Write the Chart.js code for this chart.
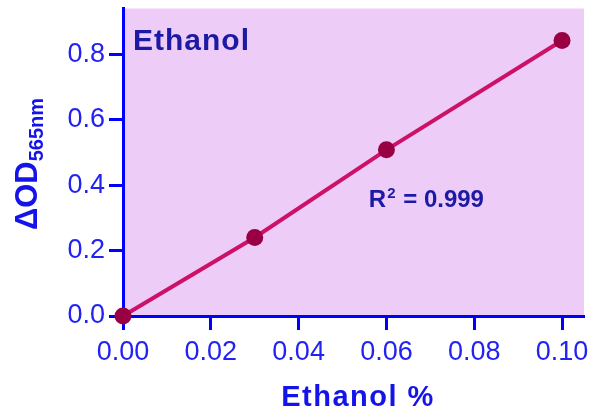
<!DOCTYPE html>
<html>
<head>
<meta charset="utf-8">
<script src="https://cdn.jsdelivr.net/npm/chart.js@4"></script>
<style>
  html, body { margin: 0; padding: 0; background: #fff; }
  #wrap { width: 595px; height: 413px; }
</style>
</head>
<body>
<div id="wrap"><canvas id="chart" width="595" height="413"></canvas></div>
<script>
// Ethanol standard curve
const concentrations = [0, 0.03, 0.06, 0.10];
const deltaOD = [0.0, 0.24, 0.508, 0.842];
const xTickValues = [0, 0.02, 0.04, 0.06, 0.08, 0.10];
const yTickValues = [0, 0.2, 0.4, 0.6, 0.8];
const rSquared = '0.999';

const AXIS_BLUE = '#0000ff';
const LABEL_BLUE = '#2222f2';
const NAVY = '#1c1aa4';

// fond mauve de la zone de tracé + textes
const decorPlugin = {
    id: 'decor',
    beforeDraw(chart) {
        const { ctx, chartArea: a } = chart;
        ctx.save();
        ctx.fillStyle = '#eeccf8';
        ctx.fillRect(a.left, a.top, a.right - a.left, a.bottom - a.top);
        ctx.restore();
    },
    afterDraw(chart) {
        const { ctx, chartArea: a, scales } = chart;
        ctx.save();
        ctx.textBaseline = 'alphabetic';

        // titre dans le cadre
        ctx.fillStyle = NAVY;
        ctx.font = 'bold 30px "Liberation Sans", Arial, sans-serif';
        ctx.letterSpacing = '1px';
        ctx.textAlign = 'left';
        ctx.fillText('Ethanol', a.left + 10, 50);

        // R²
        ctx.font = 'bold 24px "Liberation Sans", Arial, sans-serif';
        ctx.letterSpacing = '0px';
        let rx = scales.x.getPixelForValue(0.056);
        const ry = scales.y.getPixelForValue(0.333);
        ctx.fillText('R', rx, ry);
        rx += ctx.measureText('R').width;
        ctx.font = 'bold 15px "Liberation Sans", Arial, sans-serif';
        ctx.fillText('2', rx + 1, ry - 9);
        rx += ctx.measureText('2').width + 2;
        ctx.font = 'bold 24px "Liberation Sans", Arial, sans-serif';
        ctx.fillText(' = ' + rSquared, rx, ry);

        // titre axe x
        ctx.fillStyle = '#1414ea';
        ctx.font = 'bold 29px "Liberation Sans", Arial, sans-serif';
        ctx.letterSpacing = '1.5px';
        ctx.textAlign = 'center';
        ctx.fillText('Ethanol %', 358, 406);

        // titre axe y (tourné) avec indice
        ctx.translate(37, 0);
        ctx.rotate(-Math.PI / 2);
        ctx.letterSpacing = '0px';
        ctx.textAlign = 'left';
        const main = 'ΔOD', sub = '565nm';
        ctx.font = 'bold 31px "Liberation Sans", Arial, sans-serif';
        const wMain = ctx.measureText(main).width;
        ctx.font = 'bold 20px "Liberation Sans", Arial, sans-serif';
        const wSub = ctx.measureText(sub).width;
        const start = -164 - (wMain + wSub) / 2;
        ctx.font = 'bold 31px "Liberation Sans", Arial, sans-serif';
        ctx.fillText(main, start, 0);
        ctx.font = 'bold 20px "Liberation Sans", Arial, sans-serif';
        ctx.fillText(sub, start + wMain, 6);
        ctx.restore();
    }
};

new Chart(document.getElementById('chart'), {
    type: 'scatter',
    data: {
        datasets: [{
            data: concentrations.map((c, i) => ({ x: c, y: deltaOD[i] })),
            showLine: true,
            borderColor: '#cc1166',
            borderWidth: 4,
            pointRadius: 8.5,
            pointBackgroundColor: '#990044',
            pointBorderWidth: 0,
            clip: false
        }]
    },
    options: {
        responsive: false,
        animation: false,
        events: [],
        layout: { padding: { top: 7, right: 11, left: 0, bottom: 0 } },
        plugins: { legend: { display: false }, tooltip: { enabled: false } },
        scales: {
            x: {
                type: 'linear', min: 0, max: 0.105, z: 1,
                afterBuildTicks: s => { s.ticks = xTickValues.map(v => ({ value: v })); },
                afterFit: s => { s.height = 97; s.paddingLeft = 0; s.paddingRight = 0; },
                grid: { drawOnChartArea: false, tickLength: 14, tickWidth: 3, tickColor: AXIS_BLUE },
                border: { color: AXIS_BLUE, width: 3 },
                ticks: {
                    color: LABEL_BLUE, padding: 6, maxRotation: 0,
                    font: { family: '"Liberation Sans", Arial, sans-serif', size: 27 },
                    callback: v => Number(v).toFixed(2)
                }
            },
            y: {
                type: 'linear', min: 0, max: 0.94, z: 1,
                afterBuildTicks: s => { s.ticks = yTickValues.map(v => ({ value: v })); },
                afterFit: s => { s.width = 123; s.paddingTop = 0; s.paddingBottom = 0; },
                grid: { drawOnChartArea: false, tickLength: 14, tickWidth: 3, tickColor: AXIS_BLUE },
                border: { color: AXIS_BLUE, width: 3 },
                ticks: {
                    color: LABEL_BLUE, padding: 4,
                    font: { family: '"Liberation Sans", Arial, sans-serif', size: 27 },
                    callback: v => Number(v).toFixed(1)
                }
            }
        }
    },
    plugins: [decorPlugin]
});
</script>
</body>
</html>
